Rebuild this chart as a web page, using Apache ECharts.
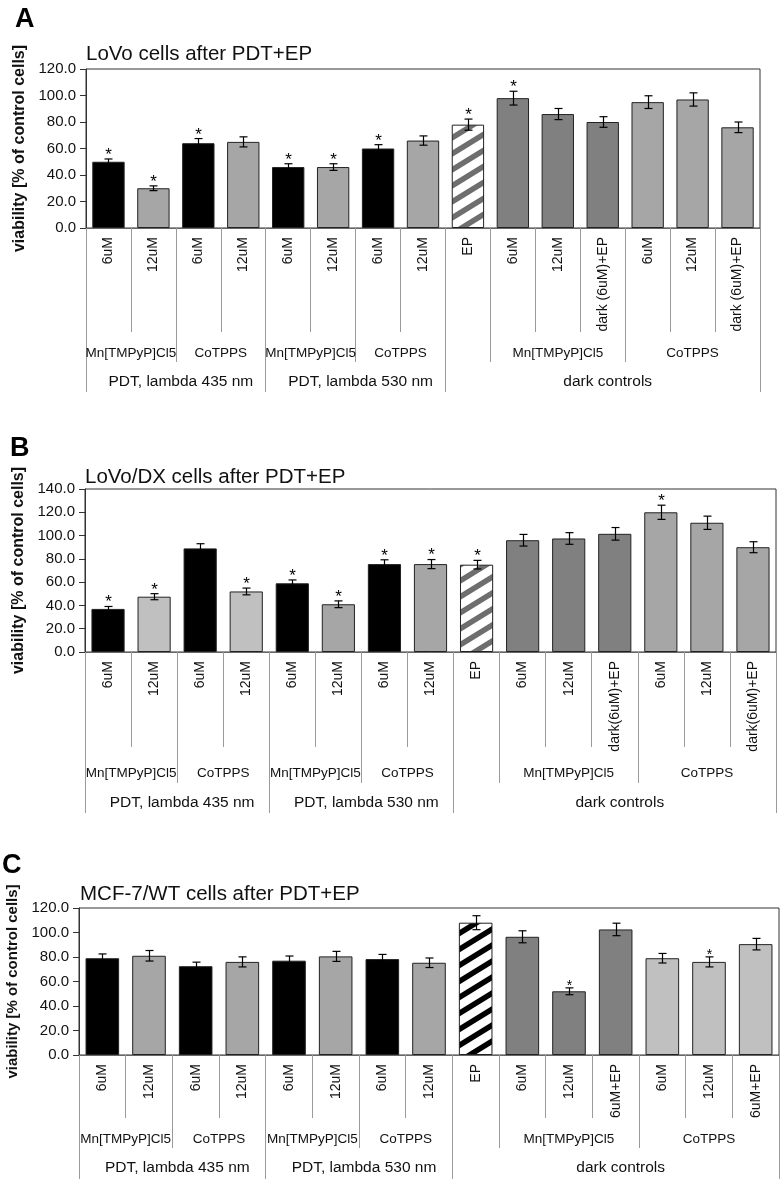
<!DOCTYPE html>
<html><head><meta charset="utf-8">
<script src="https://cdn.jsdelivr.net/npm/echarts@6/dist/echarts.min.js"></script>
<style>html,body{margin:0;padding:0;background:#fff}#c{width:782px;height:1179px}</style>
</head><body><div id="c"></div>
<script>
// ================= DATA =================
const titleA = 'LoVo cells after PDT+EP';
const catsA = ['6uM','12uM','6uM','12uM','6uM','12uM','6uM','12uM','EP','6uM','12uM','dark (6uM)+EP','6uM','12uM','dark (6uM)+EP'];
const valuesA = [50, 30, 64, 65, 46, 46, 60, 66, 78, 98, 86, 80, 95, 97, 76];
const errorsA = [2.1, 1.8, 3.5, 3.8, 2.5, 2.5, 2.9, 3.5, 4.2, 5.2, 4.2, 4.0, 4.8, 5.0, 4.0];
const starsA  = [1, 1, 1, 0, 1, 1, 1, 0, 1, 1, 0, 0, 0, 0, 0];
const yTicksA = [0, 20, 40, 60, 80, 100, 120];

const titleB = 'LoVo/DX cells after PDT+EP';
const catsB = ['6uM','12uM','6uM','12uM','6uM','12uM','6uM','12uM','EP','6uM','12uM','dark(6uM)+EP','6uM','12uM','dark(6uM)+EP'];
const valuesB = [37, 47.5, 89, 52, 59, 41, 75.5, 75.5, 75, 96, 97.5, 101.5, 120, 111, 90];
const errorsB = [2.1, 2.6, 4.0, 2.9, 2.9, 2.9, 3.7, 3.9, 3.7, 5.0, 5.0, 5.4, 6.1, 5.7, 4.7];
const starsB  = [1, 1, 0, 1, 1, 1, 1, 1, 1, 0, 0, 0, 1, 0, 0];
const yTicksB = [0, 20, 40, 60, 80, 100, 120, 140];

const titleC = 'MCF-7/WT cells after PDT+EP';
const catsC = ['6uM','12uM','6uM','12uM','6uM','12uM','6uM','12uM','EP','6uM','12uM','6uM+EP','6uM','12uM','6uM+EP'];
const valuesC = [79, 81, 72.5, 76, 77, 80.5, 78.3, 75.3, 108, 96.5, 52, 102.5, 79, 76, 90.5];
const errorsC = [3.5, 4.3, 3.3, 4.1, 3.8, 4.1, 3.8, 3.9, 5.7, 4.9, 2.8, 5.1, 3.9, 4.1, 4.7];
const starsC  = [0, 0, 0, 0, 0, 0, 0, 0, 0, 0, 1, 0, 0, 1, 0];
const yTicksC = [0, 20, 40, 60, 80, 100, 120];

// second-level (agent) and third-level (condition) groups: [label, number of categories]
const agentGroups = [['Mn[TMPyP]Cl5',2],['CoTPPS',2],['Mn[TMPyP]Cl5',2],['CoTPPS',2],['',1],['Mn[TMPyP]Cl5',3],['CoTPPS',3]];
const conditionGroups = [['PDT, lambda 435 nm',4],['PDT, lambda 530 nm',4],['dark controls',7]];
const yAxisName = 'viability [% of control cells]';

// ================= STYLE =================
const FONT = '"Liberation Sans", Arial, sans-serif';
const fillKeysA = ['k','g','k','g','k','g','k','g','hg','d','d','d','g','g','g'];
const fillKeysB = ['k','l','k','l','k','g','k','g','hg','d','d','d','g','g','g'];
const fillKeysC = ['k','g','k','g','k','g','k','g','hk','d','d','d','l','l','l'];

function hatch(color) {
  const w = 26, h = 16;
  const c = document.createElement('canvas');
  c.width = w; c.height = h;
  const g = c.getContext('2d');
  g.fillStyle = '#fff'; g.fillRect(0, 0, w, h);
  g.strokeStyle = color; g.lineWidth = 5.5; g.lineCap = 'butt';
  g.beginPath();
  for (const o of [-w, 0, w]) { g.moveTo(o - w * 0.2, h * 1.2); g.lineTo(o + w * 1.2, -h * 0.2); }
  g.stroke();
  return { image: c, repeat: 'repeat' };
}
const FILL = { k: '#000000', g: '#a6a6a6', d: '#808080', l: '#c0c0c0', hg: hatch('#6e6e6e'), hk: hatch('#000000') };

const layout = [
  { letter: 'A', letterTop: 6, letterLeft: 15, titleTop: 44, titleLeft: 86,
    grid: { left: 86, top: 69, width: 674, height: 159 }, L1: 104, L2: 134, L3: 164, M2: 118, M3: 146,
    nameGap: 50, nameSize: 16, starGap: 8, starSize: 17 },
  { letter: 'B', letterTop: 435, letterLeft: 10, titleTop: 467, titleLeft: 85,
    grid: { left: 85, top: 489, width: 691, height: 163 }, L1: 95, L2: 131, L3: 161, M2: 114, M3: 143,
    nameGap: 56, nameSize: 16, starGap: 8, starSize: 17 },
  { letter: 'C', letterTop: 852, letterLeft: 2, titleTop: 884, titleLeft: 80,
    grid: { left: 79, top: 908, width: 700, height: 147 }, L1: 63, L2: 93, L3: 126, M2: 77, M3: 105,
    nameGap: 57, nameSize: 15, starGap: 5, starSize: 14 }
];

// ================= BUILD =================
function spanAxis(groups) {
  const total = groups.reduce((a, g) => a + g[1], 0);
  const data = new Array(total * 2 + 1).fill('');
  const ticks = new Set([0]);
  let k = 0;
  for (const [label, span] of groups) {
    data[k + span] = label;
    k += 2 * span;
    ticks.add(k);
  }
  return { data, ticks };
}
const lvl2 = spanAxis(agentGroups);
const lvl3 = spanAxis(conditionGroups);

const panels = [
  { title: titleA, cats: catsA, values: valuesA, errors: errorsA, stars: starsA, yTicks: yTicksA, fills: fillKeysA },
  { title: titleB, cats: catsB, values: valuesB, errors: errorsB, stars: starsB, yTicks: yTicksB, fills: fillKeysB },
  { title: titleC, cats: catsC, values: valuesC, errors: errorsC, stars: starsC, yTicks: yTicksC, fills: fillKeysC }
];

const option = { animation: false, backgroundColor: '#fff', title: [], grid: [], xAxis: [], yAxis: [], series: [] };

panels.forEach((p, i) => {
  const L = layout[i];
  option.title.push({ text: L.letter, left: L.letterLeft, top: L.letterTop, padding: 0,
    textStyle: { fontFamily: FONT, fontSize: 27, fontWeight: 'bold', color: '#000' } });
  option.title.push({ text: p.title, left: L.titleLeft, top: L.titleTop, padding: 0,
    textStyle: { fontFamily: FONT, fontSize: 20.5, fontWeight: 'normal', color: '#111' } });
  option.grid.push(Object.assign({ show: true, borderColor: '#333', borderWidth: 1, backgroundColor: 'transparent',
    containLabel: false, outerBoundsMode: 'none' }, L.grid));

  option.xAxis.push({
    type: 'category', gridIndex: i, data: p.cats, position: 'bottom', boundaryGap: true,
    axisLine: { show: true, lineStyle: { color: '#666', width: 1 } },
    axisTick: { show: true, interval: 0, length: L.L1, lineStyle: { color: '#9a9a9a' } },
    axisLabel: { interval: 0, rotate: 90, margin: 9, fontSize: 14, color: '#111', fontFamily: FONT },
    splitLine: { show: false }
  });
  option.xAxis.push({
    type: 'category', gridIndex: i, data: lvl2.data, position: 'bottom', boundaryGap: false,
    axisLine: { show: false },
    axisTick: { show: true, interval: (idx) => lvl2.ticks.has(idx), length: L.L2, lineStyle: { color: '#9a9a9a' } },
    axisLabel: { interval: 0, margin: L.M2, fontSize: 13.5, lineHeight: 14, color: '#111', fontFamily: FONT },
    splitLine: { show: false }
  });
  option.xAxis.push({
    type: 'category', gridIndex: i, data: lvl3.data, position: 'bottom', boundaryGap: false,
    axisLine: { show: false },
    axisTick: { show: true, interval: (idx) => lvl3.ticks.has(idx), length: L.L3, lineStyle: { color: '#9a9a9a' } },
    axisLabel: { interval: 0, margin: L.M3, fontSize: 15.5, lineHeight: 16, padding: [0, 0, 0, 10], color: '#111', fontFamily: FONT },
    splitLine: { show: false }
  });
  const yMax = p.yTicks[p.yTicks.length - 1];
  option.yAxis.push({
    type: 'value', gridIndex: i, min: p.yTicks[0], max: yMax, interval: p.yTicks[1] - p.yTicks[0],
    axisLine: { show: true, lineStyle: { color: '#333' } },
    axisTick: { show: true, length: 6, lineStyle: { color: '#333' } },
    splitLine: { show: false },
    axisLabel: { formatter: (v) => v.toFixed(1), fontSize: 15, color: '#111', margin: 10, fontFamily: FONT },
    name: yAxisName, nameLocation: 'middle', nameGap: L.nameGap,
    nameTextStyle: { fontFamily: FONT, fontWeight: 'bold', fontSize: L.nameSize, color: '#111' }
  });
  option.series.push({
    type: 'bar', xAxisIndex: i * 3, yAxisIndex: i, barCategoryGap: '28%',
    itemStyle: { borderColor: '#222', borderWidth: 1 },
    data: p.values.map((v, j) => ({ value: v, itemStyle: { color: FILL[p.fills[j]] } }))
  });
  option.series.push({
    type: 'custom', xAxisIndex: i * 3, yAxisIndex: i, z: 10,
    encode: { x: 0, y: 1 },
    data: p.values.map((v, j) => [j, v, p.errors[j], p.stars[j]]),
    renderItem: (params, api) => {
      const j = api.value(0), v = api.value(1), e = api.value(2), s = api.value(3);
      const top = api.coord([j, v + e]);
      const bot = api.coord([j, v - e]);
      const x = Math.round(top[0]) + 0.5, w = 4;
      const st = { stroke: '#000', lineWidth: 1.2 };
      const ch = [
        { type: 'line', shape: { x1: x, y1: top[1], x2: x, y2: bot[1] }, style: st },
        { type: 'line', shape: { x1: x - w, y1: top[1], x2: x + w, y2: top[1] }, style: st },
        { type: 'line', shape: { x1: x - w, y1: bot[1], x2: x + w, y2: bot[1] }, style: st }
      ];
      if (s) ch.push({ type: 'text', style: { text: '*', x: x, y: top[1] - L.starGap + 0.25 * L.starSize,
        align: 'center', verticalAlign: 'middle', fontSize: L.starSize, fontFamily: FONT, fill: '#000' } });
      return { type: 'group', children: ch };
    }
  });
});

const chart = echarts.init(document.getElementById('c'), null, { renderer: 'canvas', width: 782, height: 1179 });
chart.setOption(option);
</script>
</body></html>
